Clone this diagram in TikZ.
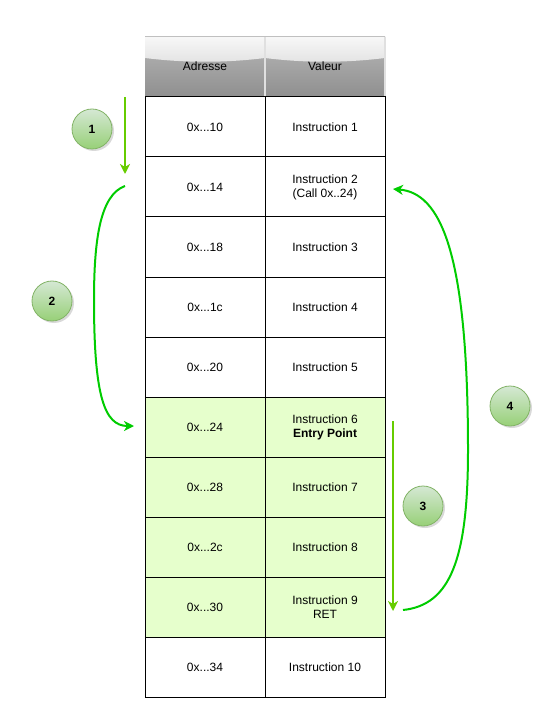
\documentclass[tikz,border=0pt]{standalone}
\usepackage{fontspec}
\setmainfont{Liberation Sans}
\usetikzlibrary{arrows.meta,shadows}
\definecolor{cellgreen}{HTML}{E6FFCC}
\definecolor{arrowA}{HTML}{66CC00}
\definecolor{arrowB}{HTML}{00CC00}
\definecolor{circborder}{HTML}{82B366}
\definecolor{circtop}{HTML}{D5E8D4}
\definecolor{circbot}{HTML}{97D077}
\tikzset{
  cell/.style={draw=black, line width=1pt, minimum width=120pt, minimum height=60pt, inner sep=0pt, align=center, font=\fontsize{12}{14}\selectfont},
  gcell/.style={cell, fill=cellgreen},
  wcell/.style={cell, fill=white},
  numcirc/.style={circle, draw=circborder, line width=0.8pt, top color=circtop, bottom color=circbot, minimum size=40pt, inner sep=0pt, font=\fontsize{12}{14}\selectfont\bfseries, drop shadow={shadow xshift=2pt, shadow yshift=-2pt, fill=black!25, opacity=0.6}},
  straightarrow/.style={draw=arrowA, line width=2pt, -{Stealth[length=10pt,width=10pt,inset=3pt]}},
  curvearrow/.style={draw=arrowB, line width=2pt, -{Stealth[length=10pt,width=10pt,inset=3pt]}},
  headtext/.style={font=\fontsize{12}{14}\selectfont, text=black}
}
\begin{document}
\begin{tikzpicture}[x=1pt,y=-1pt]
\useasboundingbox (0,0) rectangle (540,708);
% header cells
\foreach \xl in {145,265}{
  \shade[top color=black!28, bottom color=black!44] (\xl,37) rectangle (\xl+120,97);
  \shade[top color=black!3, bottom color=black!11] (\xl,37) -- (\xl+120,37) -- (\xl+120,58) .. controls (\xl+80,63) and (\xl+40,63) .. (\xl,58) -- cycle;
}
\draw[black!12, line width=1.5pt] (265,37) -- (265,97);
\draw[black!12, line width=1.5pt] (385,37) -- (385,97);
\node[headtext] (hA) at (205,66) {Adresse};
\node[headtext] (hV) at (325,66) {Valeur};
% rows
\node[wcell] (a1) at (205,127) {0x...10};
\node[wcell] (v1) at (325,127) {Instruction 1};
\node[wcell] (a2) at (205,187) {0x...14};
\node[wcell] (v2) at (325,187) {Instruction 2\\(Call 0x..24)};
\node[wcell] (a3) at (205,247) {0x...18};
\node[wcell] (v3) at (325,247) {Instruction 3};
\node[wcell] (a4) at (205,307) {0x...1c};
\node[wcell] (v4) at (325,307) {Instruction 4};
\node[wcell] (a5) at (205,367) {0x...20};
\node[wcell] (v5) at (325,367) {Instruction 5};
\node[gcell] (a6) at (205,427) {0x...24};
\node[gcell] (v6) at (325,427) {Instruction 6\\\textbf{Entry Point}};
\node[gcell] (a7) at (205,487) {0x...28};
\node[gcell] (v7) at (325,487) {Instruction 7};
\node[gcell] (a8) at (205,547) {0x...2c};
\node[gcell] (v8) at (325,547) {Instruction 8};
\node[gcell] (a9) at (205,607) {0x...30};
\node[gcell] (v9) at (325,607) {Instruction 9\\RET};
\node[wcell] (a10) at (205,667) {0x...34};
\node[wcell] (v10) at (325,667) {Instruction 10};
% circles
\node[numcirc] (c1) at (92,129) {1};
\node[numcirc] (c2) at (52,301) {2};
\node[numcirc] (c3) at (423,506) {3};
\node[numcirc] (c4) at (510,406) {4};
% arrow endpoints
\coordinate (p1s) at (125,97);
\coordinate (p1e) at (125,174);
\coordinate (p2s) at (125,186);
\coordinate (p2e) at (134,426);
\coordinate (p3s) at (393,421);
\coordinate (p3e) at (393,611);
\coordinate (p4s) at (403,610);
\coordinate (p4e) at (393,189);
\draw[straightarrow] (p1s) -- (p1e);
\draw[curvearrow] (p2s) .. controls (100,195) and (94,240) .. (94,300) .. controls (94,395) and (104,426) .. (p2e);
\draw[straightarrow] (p3s) -- (p3e);
\draw[curvearrow] (p4s) .. controls (450,605) and (468,560) .. (468,450) .. controls (468,250) and (440,193) .. (p4e);
\end{tikzpicture}
\end{document}
